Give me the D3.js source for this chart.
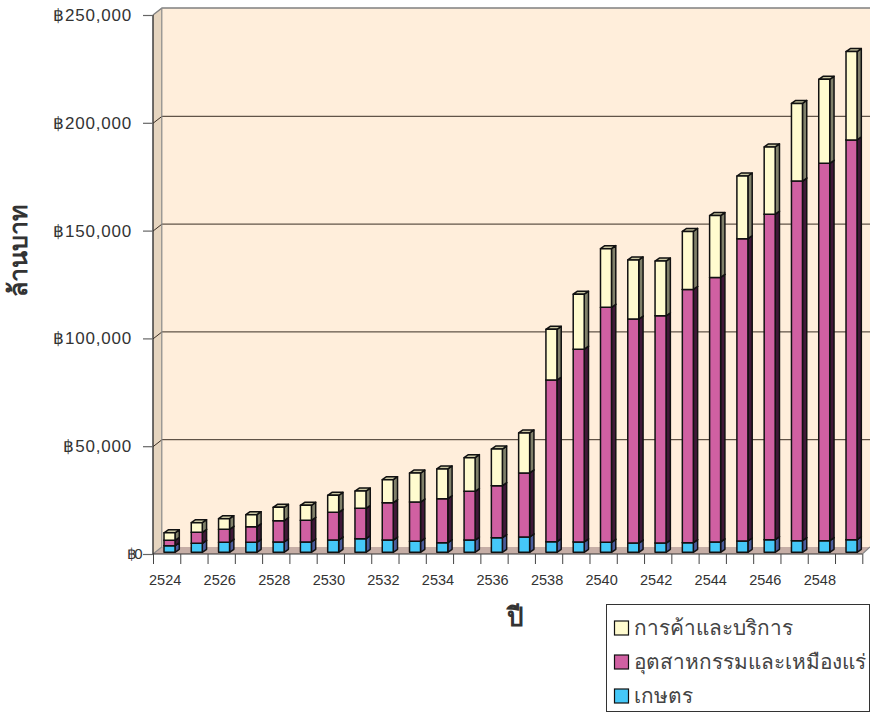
<!DOCTYPE html>
<html><head><meta charset="utf-8">
<script src="https://cdn.jsdelivr.net/npm/d3@7"></script>
<style>html,body{margin:0;padding:0;background:#fff}svg{display:block}text{font-family:"Liberation Sans","Noto Sans",Arial,sans-serif;fill:#333}</style>
</head><body><svg id="c" width="870" height="713"></svg>
<script>
const years=[2524,2525,2526,2527,2528,2529,2530,2531,2532,2533,2534,2535,2536,2537,2538,2539,2540,2541,2542,2543,2544,2545,2546,2547,2548,2549];
const agriculture=[3060,4170,4640,4640,4780,4780,5700,6300,5700,5100,4450,5700,6800,7100,4900,4800,4640,4300,4300,4450,4800,5240,5840,5400,5400,5840];
const industry=[2500,5100,6030,7240,9880,10060,12850,14100,17300,18200,20400,22600,24100,29700,75000,89400,109000,103900,105400,117500,122700,140200,151000,166800,175000,185400];
const trade=[3500,4450,4920,5570,6200,6960,7880,8000,10670,13450,13800,15600,17000,18550,23500,25500,27200,27400,25400,26900,28700,29100,31200,36000,39000,41000];
const seriesNames=["เกษตร","อุตสาหกรรมและเหมืองแร่","การค้าและบริการ"];
const yTicks=[0,50000,100000,150000,200000,250000];
const yTitle="ล้านบาท", xTitle="ปี";
const front=["#45C8F8","#D060A2","#FFFBCF"], side=["#4A5C9C","#401838","#80806A"], topc=["#2F8FB2","#8F4270","#C9C6A2"];

const svg=d3.select("#c");
const y=d3.scaleLinear().domain([0,250000]).range([554,15]);
const x=d3.scaleBand().domain(years).range([153,862.3]);
const wallDx=9,wallDy=7,right=870;
const y0=y(0),yT=y(250000);
const poly=(pts,f,s,w)=>svg.append("path").attr("d","M"+pts.map(p=>p.join(",")).join("L")+"Z").attr("fill",f).attr("stroke",s||"none").attr("stroke-width",w||0);
// walls
poly([[153+wallDx,yT-wallDy],[right,yT-wallDy],[right,y0-wallDy],[153+wallDx,y0-wallDy]],"#FFEEDB");
poly([[153,yT],[153+wallDx,yT-wallDy],[153+wallDx,y0-wallDy],[153,y0]],"#E6D5BF");
poly([[153,y0],[153+wallDx,y0-wallDy],[right,y0-wallDy],[862.3,y0]],"#C6AEA6");
// grid
yTicks.slice(1,-1).forEach(v=>{
  svg.append("path").attr("d",`M153,${y(v)+.5}L${153+wallDx},${y(v)-wallDy+.5}L${right},${y(v)-wallDy+.5}`).attr("fill","none").attr("stroke","#3A2E24").attr("stroke-width",1);
});
svg.append("path").attr("d",`M153,${yT}L${153+wallDx},${yT-wallDy}L${right},${yT-wallDy}`).attr("fill","none").attr("stroke","#808080").attr("stroke-width",1.4);
svg.append("path").attr("d",`M${153+wallDx-.2},${yT-wallDy}V${y0-wallDy}L153,${y0}M862.3,${y0}L870,${y0-wallDy}`).attr("fill","none").attr("stroke","#8a8a8a").attr("stroke-width",1.2);
// bars
const barOff=11,barW=11,dx=4.3,dy=3,lift=1.7;
const stacked=d3.stack().keys([0,1,2]).value((d,k)=>[agriculture,industry,trade][k][d])(years.map((_,i)=>i));
stacked.forEach((ser,k)=>{
  const g=svg.append("g").attr("stroke","#111").attr("stroke-width",1.5).attr("stroke-linejoin","round");
  ser.forEach((d,i)=>{
    const X=x(years[i])+barOff, Y1=y(d[0])-lift, Y2=y(d[1])-lift;
    g.append("path").attr("d",`M${X+barW},${Y2}l${dx},${-dy}V${Y1-dy}l${-dx},${dy}Z`).attr("fill",side[k]);
    g.append("path").attr("d",`M${X},${Y2}l${dx},${-dy}h${barW}l${-dx},${dy}Z`).attr("fill",topc[k]);
    g.append("rect").attr("x",X).attr("y",Y2).attr("width",barW).attr("height",Y1-Y2).attr("fill",front[k]);
  });
});
// axes
const yAxis=d3.axisLeft(y).tickValues(yTicks).tickSize(10).tickPadding(11).tickFormat(v=>"฿"+d3.format(",")(v));
const gy=svg.append("g").attr("transform","translate(153,0)").call(yAxis);
gy.select(".domain").attr("stroke","#333").attr("stroke-width",1.4).attr("d",`M0,${yT}V${y0}`);
gy.selectAll(".tick line").attr("stroke","#666").attr("stroke-width",1.2);
gy.selectAll("text").attr("font-size",17).attr("letter-spacing",0.8).attr("fill","#333");
gy.selectAll(".tick").filter(d=>d===0).select("text").attr("x",-13).attr("font-size",15).attr("letter-spacing",-2.5);
const xAxis=d3.axisBottom(d3.scaleLinear().domain([0,26]).range([153,862.3])).tickValues(d3.range(0,27)).tickSize(10).tickFormat("");
const gx=svg.append("g").attr("transform",`translate(0,${y0})`).call(xAxis);
gx.select(".domain").attr("stroke","#333").attr("stroke-width",1.2).attr("d",`M153,0H862.3`);
gx.selectAll(".tick line").attr("stroke","#444").attr("stroke-width",1);
svg.append("g").selectAll("text").data(years.filter((_,i)=>i%2===0)).join("text")
  .attr("x",d=>x(d)+x.bandwidth()/2-1.5).attr("y",585).attr("text-anchor","middle").attr("font-size",14.5).text(d=>d);
// titles
svg.append("text").attr("transform","translate(27,251) rotate(-90)").attr("text-anchor","middle").attr("font-size",25).attr("font-weight","bold").text(yTitle);
svg.append("text").attr("x",515).attr("y",626).attr("text-anchor","middle").attr("font-size",26).attr("font-weight","bold").text(xTitle);
// legend
svg.append("rect").attr("x",606.5).attr("y",604.5).attr("width",263).attr("height",107).attr("fill","#fff").attr("stroke","#333").attr("stroke-width",1);
[2,1,0].forEach((k,i)=>{
  const cy=628+i*34;
  svg.append("rect").attr("x",614.5).attr("y",cy-7).attr("width",14).attr("height",14).attr("fill",front[k]).attr("stroke","#111").attr("stroke-width",1.2);
  svg.append("text").attr("x",634).attr("y",cy+7).attr("font-size",20.8).style("fill","#444").text(seriesNames[k]);
});
</script></body></html>
